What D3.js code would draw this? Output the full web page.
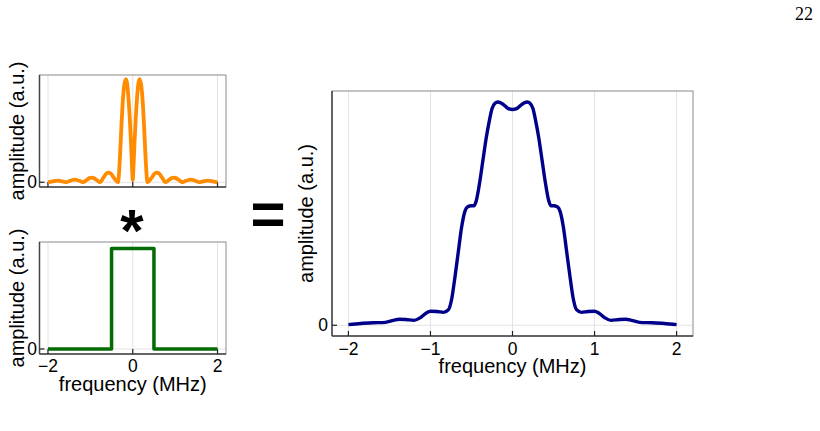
<!DOCTYPE html>
<html>
<head>
<meta charset="utf-8">
<script src="https://cdn.jsdelivr.net/npm/d3@7"></script>
<style>
   body { margin: 0; background: #fff; }
   svg { display: block; }
   .gridLine { stroke: #e3e3e3; stroke-width: 1; }
   .frameBox { fill: none; stroke: #8a8a8a; stroke-width: 1; }
   .axisLine { stroke: #444; stroke-width: 1.5; }
   .tickMark { stroke: #222; stroke-width: 1.2; }
   .tickText { font-family: "Liberation Sans", Arial, sans-serif; font-size: 17.5px; fill: #000; }
   .axisTitle { font-family: "Liberation Sans", Arial, sans-serif; font-size: 20px; fill: #000; }
</style>
</head>
<body>
<svg id="chart" width="820" height="431"></svg>
<script>
// tick values
var freqTicksSmall = [-2, 0, 2];
var freqTicksWide = [-2, -1, 0, 1, 2];
var ampTicks = [0];

// top left: orange spectrum (peak = 1)
var sincFreq = [-2.00, -1.92, -1.82, -1.77, -1.72, -1.62, -1.57, -1.50, -1.42, -1.37, -1.32, -1.22,
   -1.17, -1.10, -1.02, -0.97, -0.92, -0.84, -0.77, -0.70, -0.62, -0.57, -0.52, -0.43, -0.35,
   -0.30, -0.27, -0.24, -0.20, -0.16, -0.13, -0.10, -0.07, -0.04, -0.015, 0,
   0.015, 0.04, 0.07, 0.10, 0.13, 0.16, 0.20, 0.24, 0.27, 0.30,
   0.35, 0.43, 0.52, 0.57, 0.62, 0.70, 0.77, 0.84, 0.92, 0.97, 1.02, 1.10, 1.17,
   1.22, 1.32, 1.37, 1.42, 1.50, 1.57, 1.62, 1.72, 1.77, 1.82, 1.92, 2.00];
var sincAmp = [0.000, 0.006, 0.013, 0.015, 0.013, 0.004, 0.000, 0.010, 0.022, 0.025, 0.022, 0.008,
   0.000, 0.018, 0.040, 0.045, 0.040, 0.018, 0.000, 0.040, 0.085, 0.093, 0.085, 0.035, 0.000,
   0.26, 0.52, 0.75, 0.94, 1.00, 0.95, 0.81, 0.62, 0.37, 0.13, 0.02,
   0.13, 0.37, 0.62, 0.81, 0.95, 1.00, 0.94, 0.75, 0.52, 0.26,
   0.000, 0.035, 0.085, 0.093, 0.085, 0.040, 0.000, 0.018, 0.040, 0.045, 0.040, 0.018, 0.000,
   0.008, 0.022, 0.025, 0.022, 0.010, 0.000, 0.004, 0.013, 0.015, 0.013, 0.006, 0.000];

// bottom left: green rectangular window
var rectFreq = [-2, -0.5, -0.5, 0.5, 0.5, 2];
var rectAmp = [0, 0, 1, 1, 0, 0];

// right: blue convolution result
var convFreq = [-2.00, -1.85, -1.70, -1.55, -1.45, -1.38, -1.30, -1.20, -1.12, -1.05, -1.00, -0.92,
   -0.84, -0.78, -0.74, -0.70, -0.66, -0.62, -0.58, -0.55, -0.50, -0.47, -0.44, -0.40, -0.36,
   -0.32, -0.28, -0.25, -0.21, -0.18, -0.14, -0.10, -0.05, 0,
   0.05, 0.10, 0.14, 0.18, 0.21, 0.25, 0.28, 0.32, 0.36, 0.40, 0.44, 0.47, 0.50, 0.55, 0.58,
   0.62, 0.66, 0.70, 0.74, 0.78, 0.84, 0.92, 1.00, 1.05, 1.12, 1.20, 1.30, 1.38, 1.45, 1.55,
   1.70, 1.85, 2.00];
var convAmp = [0.003, 0.008, 0.011, 0.013, 0.022, 0.027, 0.026, 0.022, 0.035, 0.055, 0.063, 0.062,
   0.058, 0.070, 0.120, 0.220, 0.330, 0.440, 0.510, 0.530, 0.535, 0.535, 0.560, 0.640, 0.740,
   0.840, 0.920, 0.970, 0.995, 1.000, 0.995, 0.985, 0.970, 0.966,
   0.970, 0.985, 0.995, 1.000, 0.995, 0.970, 0.920, 0.840, 0.740, 0.640, 0.560, 0.535, 0.535, 0.530, 0.510,
   0.440, 0.330, 0.220, 0.120, 0.070, 0.058, 0.062, 0.063, 0.055, 0.035, 0.022, 0.026, 0.027, 0.022, 0.013,
   0.011, 0.008, 0.003];

var svg = d3.select("#chart");

function makePanel(box, xTicks, showXLabels, yLabelX){
   var panel = {};
   panel.x = d3.scaleLinear().domain([-2.2, 2.2]).range([box.left, box.right]);
   panel.y = d3.scaleLinear().domain(box.yDomain).range([box.bottom, box.top]);
   panel.g = svg.append("g");

   //vertical grid lines
   panel.g.selectAll("line.vgrid")
      .data(xTicks)
      .enter()
      .append("line")
      .attr("class", "gridLine")
      .attr("x1", function(d){return panel.x(d);})
      .attr("x2", function(d){return panel.x(d);})
      .attr("y1", box.top)
      .attr("y2", box.bottom);
   //horizontal grid line at zero
   panel.g.selectAll("line.hgrid")
      .data(ampTicks)
      .enter()
      .append("line")
      .attr("class", "gridLine")
      .attr("x1", box.left)
      .attr("x2", box.right)
      .attr("y1", function(d){return panel.y(d);})
      .attr("y2", function(d){return panel.y(d);});

   panel.g.append("rect")
      .attr("class", "frameBox")
      .attr("x", box.left)
      .attr("y", box.top)
      .attr("width", box.right - box.left)
      .attr("height", box.bottom - box.top);
   panel.g.append("line").attr("class", "axisLine")
      .attr("x1", box.left).attr("x2", box.left).attr("y1", box.top).attr("y2", box.bottom);
   panel.g.append("line").attr("class", "axisLine")
      .attr("x1", box.left).attr("x2", box.right).attr("y1", box.bottom).attr("y2", box.bottom);

   //inward ticks
   panel.g.selectAll("line.xtick")
      .data(xTicks)
      .enter()
      .append("line")
      .attr("class", "tickMark")
      .attr("x1", function(d){return panel.x(d);})
      .attr("x2", function(d){return panel.x(d);})
      .attr("y1", box.bottom)
      .attr("y2", box.bottom - 5);
   panel.g.selectAll("line.ytick")
      .data(ampTicks)
      .enter()
      .append("line")
      .attr("class", "tickMark")
      .attr("x1", box.left)
      .attr("x2", box.left + 5)
      .attr("y1", function(d){return panel.y(d);})
      .attr("y2", function(d){return panel.y(d);});

   panel.g.selectAll("text.ylab")
      .data(ampTicks)
      .enter()
      .append("text")
      .attr("class", "tickText")
      .attr("text-anchor", "end")
      .attr("x", box.left - box.yTickGap)
      .attr("y", function(d){return panel.y(d) + 6;})
      .text(function(d){return d;});

   if(showXLabels){
      panel.g.selectAll("text.xlab")
         .data(xTicks)
         .enter()
         .append("text")
         .attr("class", "tickText")
         .attr("text-anchor", "middle")
         .attr("x", function(d){return panel.x(d);})
         .attr("y", box.bottom + box.xTickOffset)
         .text(function(d){return d < 0 ? "\u2212" + Math.abs(d) : d;});
      panel.g.append("text")
         .attr("class", "axisTitle")
         .attr("text-anchor", "middle")
         .attr("x", (box.left + box.right) / 2)
         .attr("y", box.bottom + box.xTitleOffset)
         .text("frequency (MHz)");
   }

   panel.g.append("text")
      .attr("class", "axisTitle")
      .attr("text-anchor", "middle")
      .attr("transform", "translate(" + yLabelX + "," + ((box.top + box.bottom) / 2) + ") rotate(-90)")
      .text("amplitude (a.u.)");

   panel.drawLine = function(xs, ys, color, width, curve){
      var pts = xs.map(function(d, i){return [d, ys[i]];});
      var line = d3.line()
         .x(function(d){return panel.x(d[0]);})
         .y(function(d){return panel.y(d[1]);})
         .curve(curve);
      panel.g.append("path")
         .datum(pts)
         .attr("d", line)
         .attr("fill", "none")
         .attr("stroke", color)
         .attr("stroke-width", width)
         .attr("stroke-linejoin", "round");
   }

   return panel;
}

var topPanel = makePanel({left: 39.5, right: 226, top: 75, bottom: 187, yDomain: [-0.046, 1.04], yTickGap: 2.5}, freqTicksSmall, false, 23.5);
topPanel.drawLine(sincFreq, sincAmp, "#ff8c00", 3.8, d3.curveMonotoneX);

var bottomPanel = makePanel({left: 39.5, right: 226, top: 242, bottom: 354, yDomain: [-0.05, 1.066], yTickGap: 2.5, xTickOffset: 18, xTitleOffset: 37}, freqTicksSmall, true, 23.5);
bottomPanel.drawLine(rectFreq, rectAmp, "#046b04", 3.5, d3.curveLinear);

var rightPanel = makePanel({left: 332, right: 693, top: 91, bottom: 336, yDomain: [-0.048, 1.049], yTickGap: 4, xTickOffset: 18.5, xTitleOffset: 36.5}, freqTicksWide, true, 313);
rightPanel.drawLine(convFreq, convAmp, "#00008b", 3.4, d3.curveMonotoneX);

//operators and page number
svg.append("text")
   .attr("x", 132).attr("y", 251)
   .attr("text-anchor", "middle")
   .style("font-family", "Liberation Sans, Arial, sans-serif")
   .style("font-weight", "bold")
   .style("font-size", "60px")
   .text("*");
svg.append("text")
   .attr("x", 268).attr("y", 234)
   .attr("text-anchor", "middle")
   .style("font-family", "Liberation Sans, Arial, sans-serif")
   .style("font-weight", "bold")
   .style("font-size", "60px")
   .text("=");
svg.append("text")
   .attr("x", 813).attr("y", 19.5)
   .attr("text-anchor", "end")
   .style("font-family", "Liberation Serif, Times New Roman, serif")
   .style("font-size", "18px")
   .text("22");
</script>
</body>
</html>
